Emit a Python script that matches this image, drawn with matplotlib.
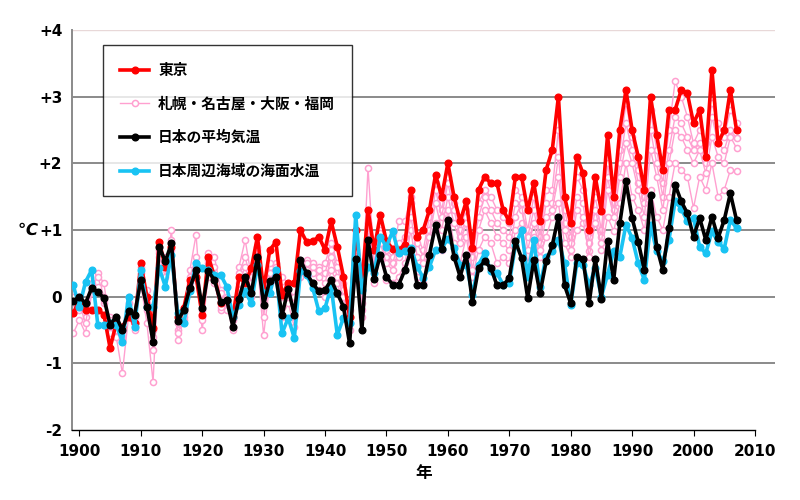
import matplotlib
matplotlib.use("Agg")
import matplotlib.pyplot as plt
from matplotlib.lines import Line2D

plt.rcParams['font.family'] = ['Noto Sans CJK JP', 'DejaVu Sans']

years = list(range(1899, 2008))

tokyo = [-0.25, -0.05, -0.2, -0.2, -0.2, -0.27, -0.77, -0.4, -0.45, -0.3, -0.4,
         0.5, 0.0, -0.47, 0.82, 0.45, 0.75, -0.3, -0.17, 0.25, 0.3,
         -0.28, 0.6, 0.3, -0.1, -0.05, -0.3, 0.3, 0.2, 0.43, 0.9,
         0.1, 0.7, 0.82, 0.03, 0.2, 0.2, 1.0, 0.82, 0.83, 0.9,
         0.7, 1.13, 0.75, 0.3, -0.3, 1.0, 0.2, 1.3, 0.7, 1.23,
         0.83, 0.72, 0.7, 0.78, 1.6, 0.9, 1.0, 1.3, 1.83, 1.5,
         2.0, 1.5, 1.13, 1.43, 0.73, 1.6, 1.8, 1.7, 1.7, 1.3,
         1.13, 1.8, 1.8, 1.3, 1.7, 1.13, 1.9, 2.2, 3.0, 1.5,
         1.1, 2.1, 1.85, 1.0, 1.8, 1.28, 2.42, 1.5, 2.5, 3.1,
         2.5, 2.1, 1.6, 3.0, 2.42, 1.9, 2.8, 2.8, 3.1, 3.05,
         2.6, 2.8, 2.1, 3.4, 2.3, 2.5, 3.1, 2.5]

japan_avg = [-0.07, 0.0, -0.1, 0.13, 0.07, -0.02, -0.42, -0.3, -0.5, -0.22, -0.27,
             0.25, -0.15, -0.68, 0.75, 0.53, 0.8, -0.37, -0.2, 0.13, 0.4,
             -0.17, 0.38, 0.25, -0.08, -0.05, -0.45, -0.03, 0.3, 0.05, 0.6,
             -0.12, 0.24, 0.29, -0.28, 0.12, -0.27, 0.55, 0.35, 0.2, 0.08,
             0.1, 0.25, 0.05, -0.15, -0.7, 0.57, -0.5, 0.85, 0.27, 0.63,
             0.3, 0.18, 0.18, 0.4, 0.7, 0.18, 0.18, 0.63, 1.08, 0.72,
             1.15, 0.6, 0.3, 0.63, -0.08, 0.43, 0.53, 0.43, 0.17, 0.17,
             0.28, 0.83, 0.58, -0.02, 0.55, 0.05, 0.53, 0.77, 1.2, 0.17,
             -0.1, 0.6, 0.57, -0.1, 0.57, -0.03, 0.83, 0.25, 1.1, 1.73,
             1.18, 0.82, 0.4, 1.53, 0.75, 0.4, 1.03, 1.68, 1.43, 1.25,
             0.9, 1.18, 0.85, 1.2, 0.88, 1.15, 1.55, 1.15]

sea_sst = [0.17, -0.15, 0.22, 0.4, -0.42, -0.42, -0.4, -0.42, -0.68, 0.0, -0.45,
           0.4, -0.15, -0.15, 0.43, 0.15, 0.63, -0.25, -0.4, 0.08, 0.5,
           0.43, 0.4, 0.33, 0.33, 0.15, -0.3, -0.12, 0.08, -0.1, 0.47,
           0.05, 0.05, 0.4, -0.55, -0.32, -0.62, 0.38, 0.33, 0.13, -0.22,
           -0.17, 0.15, -0.57, -0.32, -0.4, 1.23, 0.1, 0.45, 0.35, 0.9,
           0.75, 0.98, 0.65, 0.68, 0.73, 0.45, 0.28, 0.45, 0.7, 0.72,
           0.87, 0.73, 0.48, 0.48, 0.03, 0.48, 0.65, 0.38, 0.35, 0.18,
           0.2, 0.77, 1.0, 0.3, 0.85, 0.15, 0.6, 0.68, 0.85, 0.5,
           -0.12, 0.5, 0.48, 0.17, 0.43, 0.0, 0.33, 0.68, 0.6, 1.08,
           0.88, 0.5, 0.25, 1.08, 0.68, 0.53, 0.85, 1.43, 1.32, 1.13,
           1.18, 0.75, 0.65, 0.98, 0.82, 0.72, 1.15, 1.03]

sapporo = [-0.55, -0.35, -0.55, 0.05, 0.35, 0.2, -0.45, -0.6, -1.15, -0.3, -0.5,
           0.2, -0.4, -1.28, 0.6, 0.3, 1.0, -0.65, -0.35, 0.1, 0.45,
           -0.5, 0.3, 0.2, -0.2, -0.1, -0.5, 0.1, 0.3, 0.0, 0.5,
           -0.58, 0.2, 0.25, -0.3, -0.1, -0.45, 0.3, 0.35, 0.2, 0.1,
           0.0, 0.4, 0.2, -0.1, -0.5, 0.3, -0.3, 1.0, 0.2, 0.6,
           0.25, 0.2, 0.3, 0.5, 1.0, 0.3, 0.2, 0.6, 1.1, 0.7,
           1.3, 0.8, 0.5, 0.9, 0.3, 0.7, 0.9, 0.8, 0.5, 0.6,
           0.5, 1.0, 1.1, 0.5, 0.9, 0.6, 0.9, 1.2, 1.4, 0.8,
           0.6, 1.0, 1.1, 0.68, 1.2, 0.7, 1.2, 0.98, 1.4, 2.0,
           1.5, 1.3, 1.0, 1.6, 1.2, 1.0, 1.5, 2.0, 1.9, 1.8,
           1.33, 1.8, 1.6, 2.0, 1.5, 1.6, 1.9, 1.88]

nagoya = [-0.1, 0.0, -0.3, 0.2, 0.1, -0.1, -0.3, -0.4, -0.6, -0.2, -0.45,
          0.45, -0.1, -0.6, 0.7, 0.5, 0.8, -0.5, -0.2, 0.4, 0.93,
          -0.3, 0.65, 0.6, 0.1, 0.0, -0.3, 0.45, 0.85, 0.3, 0.7,
          0.0, 0.45, 0.5, 0.3, 0.2, -0.1, 0.5, 0.55, 0.5, 0.45,
          0.5, 0.8, 0.5, 0.2, -0.3, 0.7, 0.0, 1.93, 0.5, 1.0,
          0.7, 0.6, 1.13, 1.13, 1.5, 0.9, 0.7, 1.2, 1.7, 1.3,
          1.8, 1.4, 1.0, 1.3, 0.7, 1.4, 1.6, 1.5, 1.3, 1.2,
          1.1, 1.6, 1.5, 1.0, 1.5, 0.9, 1.6, 1.6, 2.5, 1.3,
          0.9, 1.8, 1.6, 0.9, 1.5, 1.0, 2.0, 1.4, 2.2, 2.9,
          2.4, 1.9, 1.5, 2.8, 2.2, 1.7, 2.5, 3.23, 3.0, 2.7,
          2.3, 2.5, 2.3, 2.9, 2.6, 2.4, 2.8, 2.6]

osaka = [0.0, -0.2, -0.15, 0.15, 0.3, 0.0, -0.55, -0.35, -0.5, -0.1, -0.3,
         0.35, -0.2, -0.5, 0.75, 0.45, 0.85, -0.4, -0.25, 0.3, 0.6,
         -0.2, 0.5, 0.45, -0.15, -0.2, -0.35, 0.35, 0.6, 0.2, 0.75,
         -0.1, 0.5, 0.45, 0.15, 0.1, 0.0, 0.55, 0.5, 0.45, 0.4,
         0.35, 0.7, 0.45, 0.1, -0.2, 0.6, -0.1, 1.3, 0.45, 0.95,
         0.6, 0.5, 0.8, 0.9, 1.4, 0.8, 0.6, 1.0, 1.6, 1.2,
         1.7, 1.3, 0.9, 1.2, 0.6, 1.2, 1.5, 1.3, 1.1, 1.0,
         0.9, 1.4, 1.3, 0.9, 1.3, 0.8, 1.4, 1.4, 2.1, 1.1,
         0.8, 1.5, 1.4, 0.8, 1.3, 0.9, 1.8, 1.3, 2.0, 2.6,
         2.2, 1.7, 1.4, 2.5, 2.0, 1.5, 2.2, 2.7, 2.6, 2.4,
         2.2, 2.3, 2.0, 2.7, 2.3, 2.2, 2.5, 2.38]

fukuoka = [-0.25, -0.1, -0.4, 0.1, 0.15, -0.05, -0.35, -0.5, -0.65, 0.0, -0.4,
           0.3, 0.1, -0.8, 0.65, 0.6, 0.7, -0.55, -0.3, 0.2, 0.5,
           -0.35, 0.55, 0.3, 0.05, -0.1, -0.45, 0.2, 0.45, 0.1, 0.6,
           -0.3, 0.35, 0.4, 0.0, 0.05, -0.3, 0.45, 0.4, 0.35, 0.3,
           0.2, 0.6, 0.3, 0.0, -0.4, 0.5, -0.2, 1.1, 0.35, 0.8,
           0.5, 0.4, 0.6, 0.7, 1.2, 0.6, 0.5, 0.9, 1.4, 1.0,
           1.5, 1.1, 0.8, 1.1, 0.4, 1.0, 1.3, 1.1, 0.9, 0.8,
           0.7, 1.2, 1.4, 0.7, 1.1, 0.7, 1.2, 1.3, 1.8, 1.0,
           0.7, 1.3, 1.2, 0.6, 1.1, 0.8, 1.6, 1.2, 1.8, 2.3,
           2.0, 1.6, 1.2, 2.2, 1.8, 1.3, 2.0, 2.5, 2.4, 2.2,
           2.0, 2.2, 1.85, 2.4, 2.1, 2.0, 2.4, 2.23]

y_ticks = [-2, -1, 0, 1, 2, 3, 4]
y_tick_labels = ['-2', '-1', '0', '+1', '+2', '+3', '+4']
x_ticks = list(range(1900, 2011, 10))
legend_labels = ['東京', '札幌・名古屋・大阪・福岡', '日本の平均気温', '日本周辺海域の海面水温']

RED = '#FF0000'
PINK = '#FFA0D0'
BLACK = '#000000'
CYAN = '#19C3F3'

fig = plt.figure(figsize=(8, 5), dpi=100)
ax = fig.add_axes([0.09, 0.14, 0.879, 0.80])

for v in [-1, 0, 1, 2, 3]:
    ax.axhline(v, color='#8a8a8a', lw=1.4, zorder=1)
ax.axhline(4, color='#e8d8d8', lw=1.0, zorder=1)

for s in [sapporo, nagoya, osaka, fukuoka]:
    ax.plot(years, s, color=PINK, lw=1.0, marker='o', ms=4.4,
            mfc='white', mec=PINK, mew=1.1, zorder=2)
ax.plot(years, tokyo, color=RED, lw=2.6, marker='o', ms=4.8, zorder=3)
ax.plot(years, sea_sst, color=CYAN, lw=2.6, marker='o', ms=4.8, zorder=4)
ax.plot(years, japan_avg, color=BLACK, lw=2.6, marker='o', ms=4.8, zorder=5)

ax.set_xlim(1898.8, 2013.3)
ax.set_ylim(-2, 4)
ax.set_yticks(y_ticks)
ax.set_yticklabels(y_tick_labels)
ax.set_xticks(x_ticks)
ax.set_xticklabels([str(x) for x in x_ticks])

for side in ['top', 'right']:
    ax.spines[side].set_visible(False)
ax.spines['left'].set_color('#8a8a8a')
ax.spines['left'].set_linewidth(1.4)
ax.spines['bottom'].set_color('black')
ax.spines['bottom'].set_linewidth(1.0)
ax.spines['bottom'].set_bounds(1898.8, 2010)

ax.tick_params(axis='y', length=0, pad=7, labelsize=11)
ax.tick_params(axis='x', length=4, direction='out', pad=6, labelsize=11)
for lab in ax.get_xticklabels() + ax.get_yticklabels():
    lab.set_fontweight('bold')
    lab.set_family(['DejaVu Sans'])

ax.set_xlabel('年', fontsize=12, fontweight='bold', labelpad=4)
ax.text(-0.063, 1, '℃', transform=ax.get_yaxis_transform(), ha='center',
        va='center', fontsize=12, fontweight='bold', fontstyle='italic',
        family=['DejaVu Sans'])

handles = [
    Line2D([], [], color=RED, lw=2.6, marker='o', ms=4.8),
    Line2D([], [], color=PINK, lw=1.0, marker='o', ms=4.4, mfc='white', mec=PINK, mew=1.1),
    Line2D([], [], color=BLACK, lw=2.6, marker='o', ms=4.8),
    Line2D([], [], color=CYAN, lw=2.6, marker='o', ms=4.8),
]
leg = ax.legend(handles, legend_labels, loc='upper left',
                bbox_to_anchor=(0.044, 0.9625), borderaxespad=0,
                prop={'size': 10.6, 'weight': 'bold', 'family': ['Noto Sans CJK JP']},
                frameon=True, fancybox=False, edgecolor='black',
                handlelength=2.0, handletextpad=0.6, labelspacing=1.2,
                borderpad=1.15, markerscale=1.0)
leg.get_frame().set_linewidth(1.0)
leg.set_zorder(10)

fig.savefig('out.png', dpi=100, facecolor='white')
